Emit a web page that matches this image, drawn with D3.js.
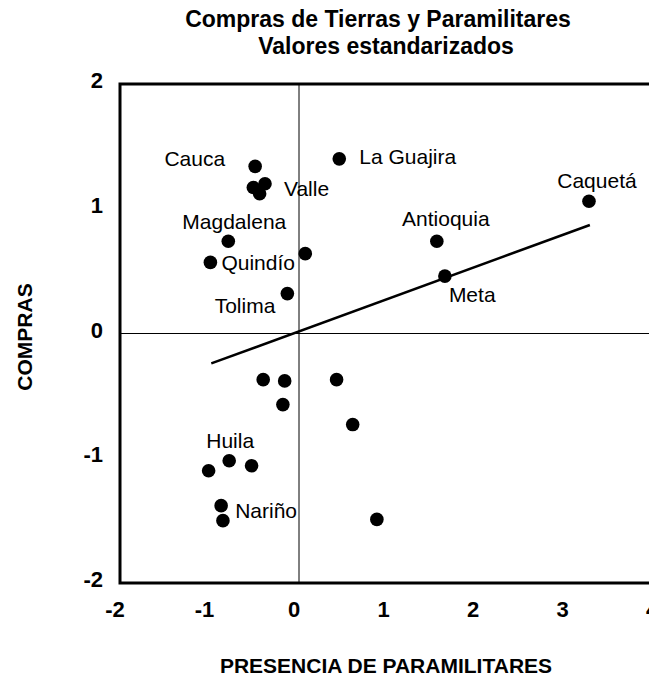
<!DOCTYPE html>
<html>
<head>
<meta charset="utf-8">
<script src="https://cdn.jsdelivr.net/npm/d3@7"></script>
<style>
  body { margin: 0; background: #fff; }
  svg { display: block; font-family: Arial, "Liberation Sans", sans-serif; }
</style>
</head>
<body>
<svg></svg>
<script>
// departamentos (blank = sin etiqueta)
var names = ["Cauca", "", "Valle", "", "Magdalena", "Quindío", "", "Tolima",
  "La Guajira", "Caquetá", "Antioquia", "Meta",
  "", "", "", "", "", "Huila", "", "", "Nariño", "", ""];
var paras = [-0.49, -0.51, -0.38, -0.44, -0.79, -0.99, 0.07, -0.13,
  0.45, 3.24, 1.54, 1.63,
  -0.40, -0.16, 0.42, -0.18, 0.60, -0.78, -1.01, -0.53, -0.87, -0.85, 0.87];
var compras = [1.34, 1.17, 1.20, 1.12, 0.74, 0.57, 0.64, 0.32,
  1.40, 1.06, 0.74, 0.46,
  -0.37, -0.38, -0.37, -0.57, -0.73, -1.02, -1.10, -1.06, -1.38, -1.50, -1.49];

// recta de tendencia (extremos)
var trendX = [-0.98, 3.25];
var trendY = [-0.24, 0.87];

var xTicks = [-2, -1, 0, 1, 2, 3, 4];
var yTicks = [2, 1, 0, -1, -2];

// where each label sits relative to its dot
var labelPos = {
  "Cauca": [-30, -8, "end"],
  "Valle": [19, 5, "start"],
  "Magdalena": [6, -20, "middle"],
  "Quindío": [11, 0, "start"],
  "Tolima": [-12, 12, "end"],
  "La Guajira": [20, -2, "start"],
  "Caquetá": [8, -21, "middle"],
  "Antioquia": [9, -23, "middle"],
  "Meta": [4, 19, "start"],
  "Huila": [1, -20, "middle"],
  "Nariño": [14, 5, "start"]
};

var width = 649, height = 677;
var svg = d3.select("svg").attr("width", width).attr("height", height);

var x = d3.scaleLinear().domain([-2, 4]).range([120, 657]);
var y = d3.scaleLinear().domain([-2, 2]).range([583, 84]);

// title
svg.append("text").attr("x", 378).attr("y", 27)
  .attr("text-anchor", "middle").style("font-weight", "bold").style("font-size", "23px")
  .text("Compras de Tierras y Paramilitares");
svg.append("text").attr("x", 386).attr("y", 54)
  .attr("text-anchor", "middle").style("font-weight", "bold").style("font-size", "23px")
  .text("Valores estandarizados");

// zero lines
svg.append("line").attr("x1", x(0)).attr("x2", x(0)).attr("y1", y(2)).attr("y2", y(-2))
  .attr("stroke", "#000").attr("stroke-width", 1);
svg.append("line").attr("x1", x(-2)).attr("x2", width).attr("y1", y(0)).attr("y2", y(0))
  .attr("stroke", "#000").attr("stroke-width", 1);

// frame (right side falls outside the picture)
svg.append("path")
  .attr("d", "M" + width + "," + y(2) + "H" + x(-2) + "V" + y(-2) + "H" + width)
  .attr("fill", "none").attr("stroke", "#000").attr("stroke-width", 3);

// tick labels
svg.selectAll(".xt").data(xTicks).enter().append("text")
  .attr("class", "xt")
  .attr("x", d => x(d) - 5).attr("y", 617)
  .attr("text-anchor", "middle").style("font-weight", "bold").style("font-size", "22px")
  .text(d => d);
svg.selectAll(".yt").data(yTicks).enter().append("text")
  .attr("class", "yt")
  .attr("x", 103).attr("y", d => y(d) + 4)
  .attr("text-anchor", "end").style("font-weight", "bold").style("font-size", "22px")
  .text(d => d);

// axis titles
svg.append("text").attr("x", 386).attr("y", 673)
  .attr("text-anchor", "middle").style("font-weight", "bold").style("font-size", "21px")
  .text("PRESENCIA DE PARAMILITARES");
svg.append("text")
  .attr("transform", "translate(32,337)rotate(-90)")
  .attr("text-anchor", "middle").style("font-weight", "bold").style("font-size", "21px")
  .text("COMPRAS");

// trend line
svg.append("line")
  .attr("x1", x(trendX[0])).attr("y1", y(trendY[0]))
  .attr("x2", x(trendX[1])).attr("y2", y(trendY[1]))
  .attr("stroke", "#000").attr("stroke-width", 2.5);

var pts = names.map((n, i) => ({ name: n, px: paras[i], py: compras[i] }));

svg.append("g").selectAll("circle").data(pts).enter().append("circle")
  .attr("cx", d => x(d.px)).attr("cy", d => y(d.py)).attr("r", 6.8)
  .attr("fill", "#000");

svg.append("g").selectAll("text").data(pts.filter(d => d.name)).enter().append("text")
  .attr("x", d => x(d.px) + labelPos[d.name][0])
  .attr("y", d => y(d.py) + labelPos[d.name][1])
  .attr("dy", "0.35em")
  .attr("text-anchor", d => labelPos[d.name][2])
  .style("font-size", "21px")
  .text(d => d.name);
</script>
</body>
</html>
